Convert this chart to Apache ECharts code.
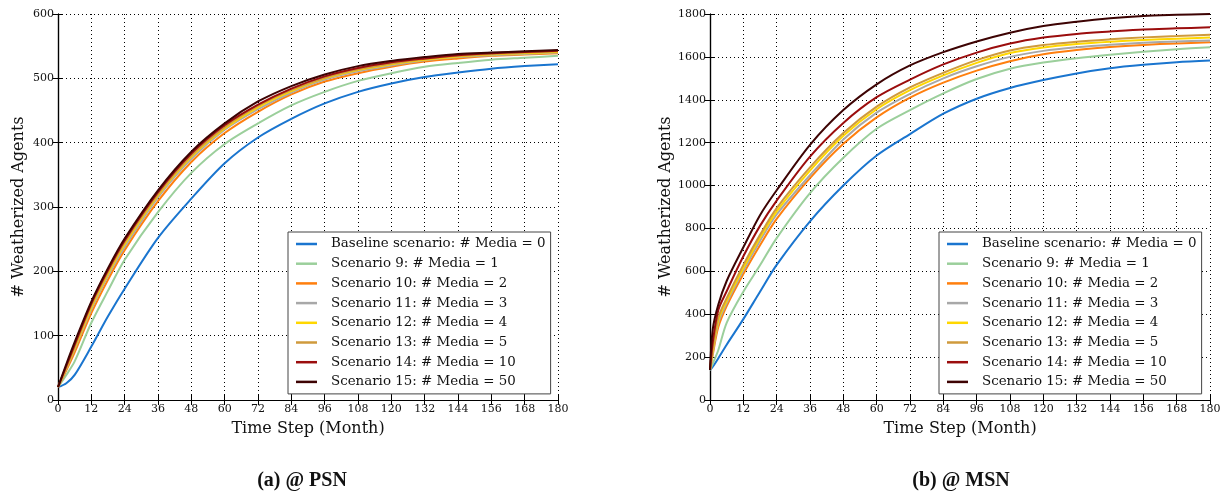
<!DOCTYPE html>
<html>
<head>
<meta charset="utf-8">
<script src="https://cdn.jsdelivr.net/npm/echarts@6/dist/echarts.min.js"></script>
<style>html,body{margin:0;padding:0;background:#fff}</style>
</head>
<body>
<div id="chart" style="width:1225px;height:491px"></div>
<script>
var names = [
  "Baseline scenario: # Media = 0",
  "Scenario 9: # Media = 1",
  "Scenario 10: # Media = 2",
  "Scenario 11: # Media = 3",
  "Scenario 12: # Media = 4",
  "Scenario 13: # Media = 5",
  "Scenario 14: # Media = 10",
  "Scenario 15: # Media = 50"
];
var colors = ["#1a75cf", "#9bcf9b", "#ff7f0e", "#a8a8a8", "#ffd700", "#cf9a3c", "#9b0d0d", "#3d0303"];

// (a) PSN
var monthsPSN = [0, 3, 6, 12, 18, 24, 36, 48, 60, 72, 84, 96, 108, 120, 132, 144, 156, 168, 180];
var psnBase = [20, 26, 39, 83, 130, 173, 252, 313, 368, 408, 437, 461, 479, 492, 502, 509, 515, 519, 522];
var psnS9 = [20, 39, 60, 120, 170, 218, 292, 353, 398, 430, 458, 479, 496, 508, 518, 524, 529, 532, 535];
var psnS10 = [20, 46, 74, 135, 187, 233, 309, 370, 415, 448, 475, 495, 508, 518, 526, 531, 535, 537, 539];
var psnS11 = [20, 49, 79, 141, 193, 238, 315, 375, 420, 452, 478, 498, 511, 520, 528, 533, 536, 538, 540];
var psnS12 = [20, 50, 81, 144, 196, 242, 318, 378, 422, 455, 480, 500, 513, 522, 529, 534, 537, 539, 541];
var psnS13 = [20, 51, 83, 147, 199, 245, 320, 380, 424, 457, 482, 501, 514, 523, 530, 535, 538, 540, 542];
var psnS14 = [20, 53, 86, 150, 202, 248, 323, 383, 427, 459, 484, 503, 516, 525, 531, 536, 539, 541, 543];
var psnS15 = [20, 56, 90, 153, 205, 251, 326, 386, 430, 464, 488, 506, 519, 527, 533, 538, 540, 542, 544];

// (b) MSN
var monthsMSN = [0, 1, 3, 6, 12, 18, 24, 36, 48, 60, 72, 84, 96, 108, 120, 132, 144, 156, 168, 180];
var msnBase = [140, 155, 195, 258, 377, 505, 630, 833, 1000, 1140, 1240, 1335, 1405, 1455, 1492, 1523, 1547, 1563, 1575, 1583];
var msnS9 = [140, 170, 233, 360, 505, 628, 755, 965, 1130, 1265, 1352, 1430, 1497, 1545, 1574, 1594, 1610, 1624, 1636, 1645];
var msnS10 = [140, 212, 340, 438, 588, 722, 845, 1035, 1195, 1318, 1410, 1480, 1536, 1580, 1612, 1632, 1646, 1656, 1663, 1668];
var msnS11 = [140, 222, 360, 452, 604, 742, 865, 1048, 1215, 1340, 1428, 1500, 1556, 1600, 1628, 1645, 1657, 1666, 1672, 1676];
var msnS12 = [140, 230, 372, 462, 615, 757, 880, 1070, 1232, 1356, 1445, 1514, 1572, 1618, 1644, 1660, 1671, 1679, 1685, 1690];
var msnS13 = [140, 240, 385, 475, 630, 770, 895, 1085, 1245, 1368, 1458, 1526, 1585, 1630, 1655, 1671, 1682, 1691, 1697, 1703];
var msnS14 = [140, 270, 420, 507, 670, 812, 930, 1135, 1292, 1412, 1494, 1565, 1620, 1662, 1690, 1707, 1718, 1728, 1733, 1738];
var msnS15 = [140, 330, 445, 555, 712, 862, 978, 1190, 1352, 1472, 1560, 1622, 1672, 1713, 1744, 1764, 1780, 1791, 1796, 1800];

var psnSets = [psnBase, psnS9, psnS10, psnS11, psnS12, psnS13, psnS14, psnS15];
var msnSets = [msnBase, msnS9, msnS10, msnS11, msnS12, msnS13, msnS14, msnS15];

var serif = "DejaVu Serif";

function pairs(xs, ys) {
  return xs.map(function (x, i) { return [x, ys[i]]; });
}

function plain(v) { return String(v); }

function xAxes(grid) {
  return [
    {
      gridIndex: grid, type: "value", min: 0, max: 180, interval: 12, position: "bottom",
      name: "Time Step (Month)", nameLocation: "middle", nameGap: 21,
      nameTextStyle: { fontFamily: serif, fontSize: 16, color: "#111" },
      axisLine: { lineStyle: { color: "#000", width: 1.2 } },
      axisTick: { inside: true, length: 5, lineStyle: { color: "#000" } },
      axisLabel: { fontFamily: serif, fontSize: 11, color: "#111", margin: 4, formatter: plain },
      splitLine: { show: true, lineStyle: { color: "#000", type: [1, 3], width: 1 } }
    },
    {
      gridIndex: grid, type: "value", min: 0, max: 180, interval: 12, position: "top",
      axisLine: { lineStyle: { color: "#000", width: 1.2 } },
      axisTick: { inside: true, length: 5, lineStyle: { color: "#000" } },
      axisLabel: { show: false },
      splitLine: { show: false }
    }
  ];
}

function yAxes(grid, max, step, gap) {
  return [
    {
      gridIndex: grid, type: "value", min: 0, max: max, interval: step, position: "left",
      name: "# Weatherized Agents", nameLocation: "middle", nameGap: gap,
      nameTextStyle: { fontFamily: serif, fontSize: 16, color: "#111" },
      axisLine: { show: true, lineStyle: { color: "#000", width: 1.2 } },
      axisTick: { show: true, inside: true, length: 5, lineStyle: { color: "#000" } },
      axisLabel: { fontFamily: serif, fontSize: 11, color: "#111", margin: 4, formatter: plain },
      splitLine: { show: true, lineStyle: { color: "#000", type: [1, 3], width: 1 } }
    },
    {
      gridIndex: grid, type: "value", min: 0, max: max, interval: step, position: "right",
      axisLine: { show: true, lineStyle: { color: "#000", width: 1.2 } },
      axisTick: { show: true, inside: true, length: 5, lineStyle: { color: "#000" } },
      axisLabel: { show: false },
      splitLine: { show: false }
    }
  ];
}

function legendAt(left) {
  return {
    orient: "vertical", left: left, top: 232,
    data: names,
    icon: "rect", itemWidth: 21, itemHeight: 2.5, itemGap: 3.7,
    padding: [4, 5, 4, 8],
    backgroundColor: "#fff", borderColor: "#444", borderWidth: 1,
    selectedMode: false,
    textStyle: { fontFamily: serif, fontSize: 13.4, color: "#111", lineHeight: 16, padding: [0, 0, 0, 9] }
  };
}

var series = [];
psnSets.forEach(function (ys, i) {
  series.push({
    name: names[i], type: "line", xAxisIndex: 0, yAxisIndex: 0,
    data: pairs(monthsPSN, ys), smooth: 0.3,
    showSymbol: false, color: colors[i], lineStyle: { width: 2, color: colors[i] }
  });
});
msnSets.forEach(function (ys, i) {
  series.push({
    name: names[i], type: "line", xAxisIndex: 2, yAxisIndex: 2,
    data: pairs(monthsMSN, ys), smooth: 0.3,
    showSymbol: false, color: colors[i], lineStyle: { width: 2, color: colors[i] }
  });
});

var myChart = echarts.init(document.getElementById("chart"));
myChart.setOption({
  animation: false,
  backgroundColor: "#fff",
  title: [
    { text: "(a) @ PSN", left: 297, top: 466, textAlign: "center",
      textStyle: { fontFamily: "Liberation Serif", fontWeight: "bold", fontSize: 20, color: "#111" } },
    { text: "(b) @ MSN", left: 956, top: 466, textAlign: "center",
      textStyle: { fontFamily: "Liberation Serif", fontWeight: "bold", fontSize: 20, color: "#111" } }
  ],
  grid: [
    { left: 58, right: 667, top: 14, bottom: 91 },
    { left: 710, right: 15, top: 14, bottom: 91 }
  ],
  legend: [legendAt(288), legendAt(939)],
  xAxis: xAxes(0).concat(xAxes(1)),
  yAxis: yAxes(0, 600, 100, 31).concat(yAxes(1, 1800, 200, 33)),
  series: series
});
</script>
</body>
</html>
